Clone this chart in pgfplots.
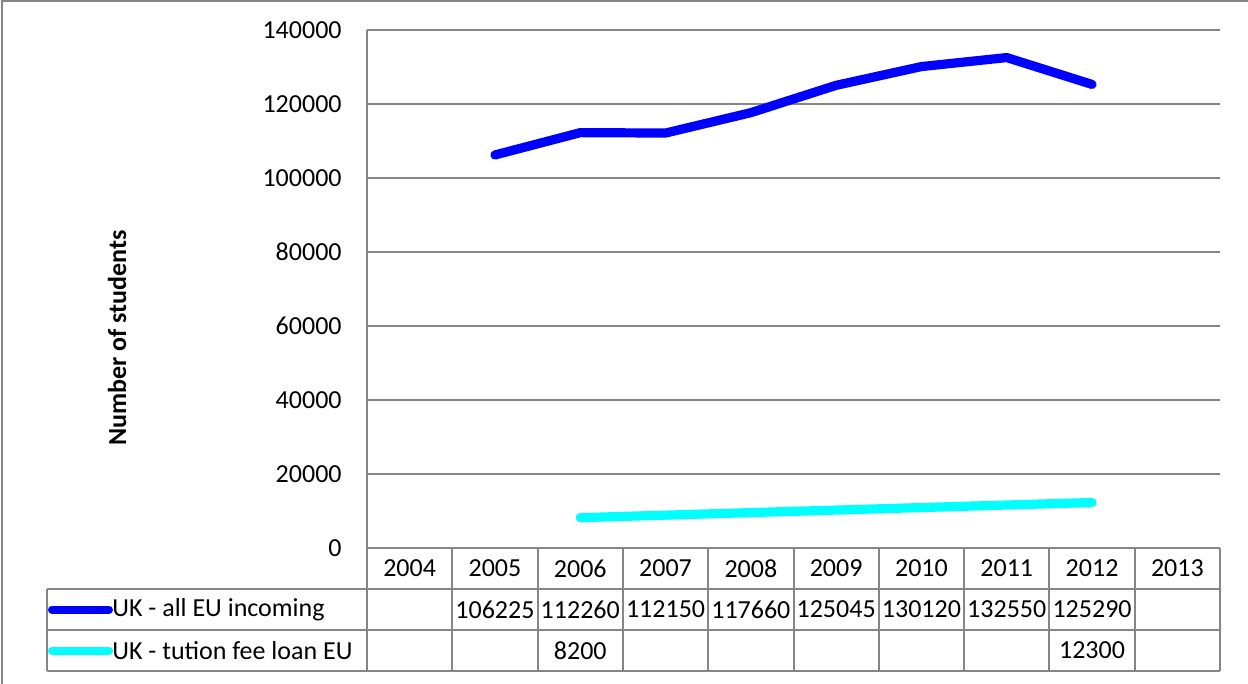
\documentclass[border=0pt]{standalone}
\usepackage{pgfplots}
\pgfplotsset{compat=1.18}
\usepackage{fontspec}
\setmainfont{Carlito}
\definecolor{gridgray}{RGB}{134,134,134}
\definecolor{serblue}{RGB}{0,0,255}
\definecolor{sercyan}{RGB}{0,255,255}
\pgfplotstableread{
year val
2005 106225
2006 112260
2007 112150
2008 117660
2009 125045
2010 130120
2011 132550
2012 125290
}\allEU
\pgfplotstableread{
year val
2006 8200
2012 12300
}\loanEU
\begin{document}
\fontsize{13}{15.6}\selectfont
\begin{tikzpicture}
\begin{scope}[x=0.5pt,y=-0.5pt]
\useasboundingbox (0,0) rectangle (1248,684);
\draw[gridgray,line width=1pt] (2,684) -- (2,1) -- (1248,1);
\end{scope}
\begin{axis}[
  at={(183.5pt,-274pt)}, anchor=south west,
  scale only axis, width=426.5pt, height=259pt,
  xmin=2003.5, xmax=2013.5, ymin=0, ymax=140000,
  ytick={0,20000,...,140000},
  xtick=\empty,
  scaled y ticks=false,
  yticklabel style={/pgf/number format/fixed,/pgf/number format/1000 sep={},anchor=east,inner sep=0pt,xshift=-12.5pt,font=\fontsize{13}{15.6}\selectfont},
  /pgf/number format/assume math mode=true,
  major tick length=0pt,
  ymajorgrids, grid style={gridgray,line width=1pt},
  axis line style={draw=none},
  clip=false,
]
\addplot[serblue,line width=4.6pt,line cap=round,line join=round] table[x=year,y=val] {\allEU};
\addplot[sercyan,line width=4.6pt,line cap=round,line join=round] table[x=year,y=val] {\loanEU};
\end{axis}
\begin{scope}[x=0.5pt,y=-0.5pt]
\draw[gridgray,line width=1pt] (367,30) -- (367,671);
\draw[gridgray,line width=1pt] (367,548) -- (1220,548);
\draw[gridgray,line width=1pt] (47,589) -- (1220,589);
\draw[gridgray,line width=1pt] (47,630) -- (1220,630);
\draw[gridgray,line width=1pt] (47,671) -- (1220,671);
\draw[gridgray,line width=1pt] (47,589) -- (47,671);
\foreach \k in {1,...,10} {\draw[gridgray,line width=1pt] ({367+85.3*\k},548) -- ({367+85.3*\k},671);}
\foreach \y [count=\i from 0] in {2004,2005,2006,2007,2008,2009,2010,2011,2012,2013} {\node at ({367+85.3*(\i+0.5)},568.5) {\y};}
\foreach \v/\i in {106225/1,112260/2,112150/3,117660/4,125045/5,130120/6,132550/7,125290/8} {\node at ({367+85.3*(\i+0.5)},609.5) {\v};}
\foreach \v/\i in {8200/2,12300/8} {\node at ({367+85.3*(\i+0.5)},650.5) {\v};}
\draw[serblue,line width=4pt,line cap=round] (52,609.5) -- (109,609.5);
\draw[sercyan,line width=4pt,line cap=round] (52,650.5) -- (109,650.5);
\node[anchor=west,inner sep=0pt] at (112,609.5) {UK - all EU incoming};
\node[anchor=west,inner sep=0pt] at (112,650.5) {UK - tution fee loan EU};
\node[rotate=90,font=\bfseries\fontsize{13}{15.6}\selectfont] at (117,338) {Number of students};
\end{scope}
\end{tikzpicture}
\end{document}
